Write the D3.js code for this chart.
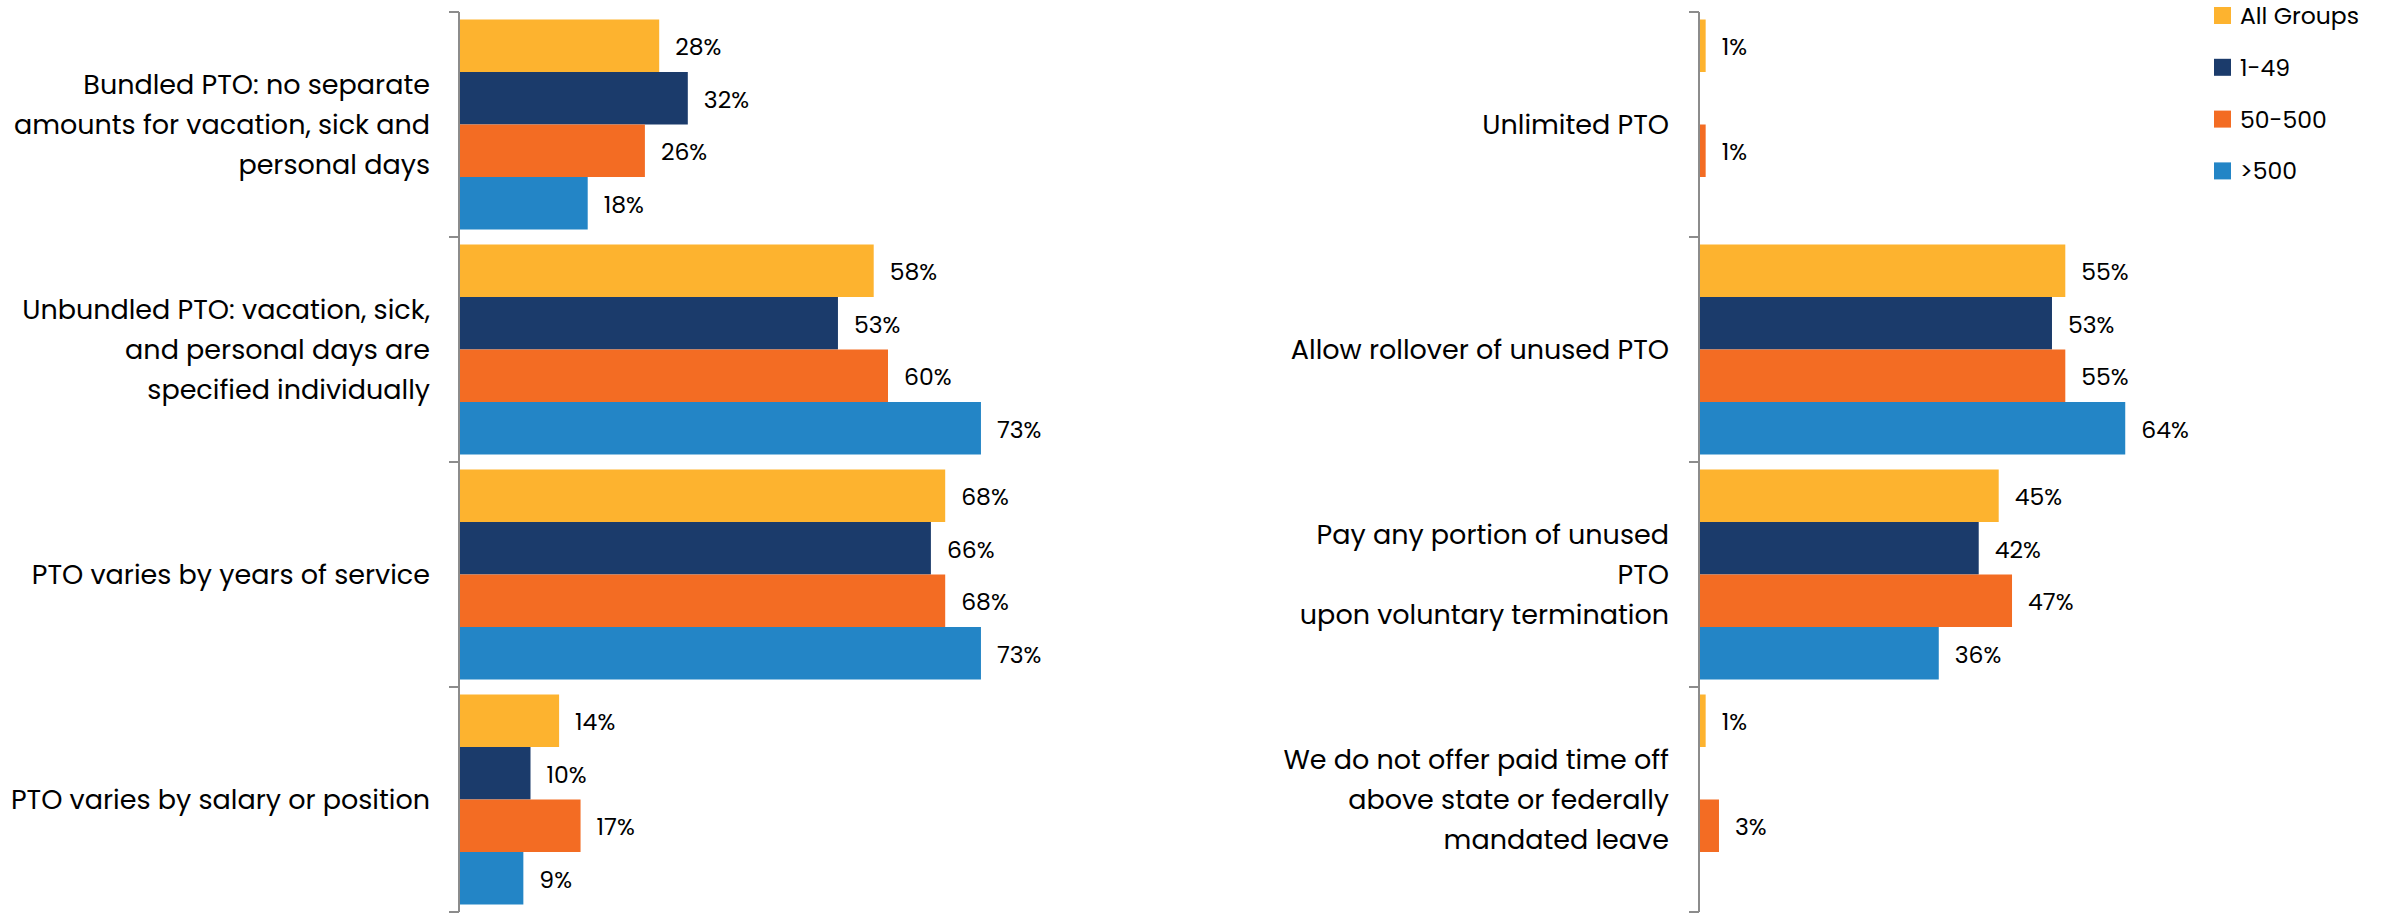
<!DOCTYPE html>
<html>
<head>
<meta charset="utf-8">
<script src="https://cdn.jsdelivr.net/npm/d3@7"></script>
<style>
  html, body { margin: 0; padding: 0; background: #fff; }
  svg { display: block; }
  text { font-family: Poppins, Inter, "Open Sans", sans-serif; fill: #000; }
</style>
</head>
<body>
<svg id="chart" width="2395" height="913"></svg>
<script>
// ---------- data ----------
const seriesNames = ["All Groups", "1-49", "50-500", ">500"];

const leftCategories = [
  ["Bundled PTO: no separate", "amounts for vacation, sick and", "personal days"],
  ["Unbundled PTO: vacation, sick,", "and personal days are", "specified individually"],
  ["PTO varies by years of service"],
  ["PTO varies by salary or position"]
];
const leftAllGroups = [28, 58, 68, 14];
const left1to49     = [32, 53, 66, 10];
const left50to500   = [26, 60, 68, 17];
const leftOver500   = [18, 73, 73, 9];

const rightCategories = [
  ["Unlimited PTO"],
  ["Allow rollover of unused PTO"],
  ["Pay any portion of unused", "PTO", "upon voluntary termination"],
  ["We do not offer paid time off", "above state or federally", "mandated leave"]
];
const rightAllGroups = [1, 55, 45, 1];
const right1to49     = [null, 53, 42, null];
const right50to500   = [1, 55, 47, 3];
const rightOver500   = [null, 64, 36, null];

const colors = ["#FDB32F", "#1B3B6B", "#F36C23", "#2385C6"];

// ---------- drawing ----------
const svg = d3.select("#chart");

function panel(cfg) {
  const { categories, values, axisX, pxPerPct, labelGap } = cfg;
  const g = svg.append("g");
  const y = d3.scaleBand().domain(d3.range(categories.length)).range([12, 912]).padding(0);
  const inner = d3.scaleBand().domain(d3.range(seriesNames.length))
    .range([7.5, y.bandwidth() - 7.5]).padding(0);
  const x = d3.scaleLinear().domain([0, 80]).range([axisX, axisX + 80 * pxPerPct]);

  categories.forEach((cat, ci) => {
    values.forEach((arr, si) => {
      const v = arr[ci];
      if (v === null || v === undefined) return;
      const y0 = y(ci) + inner(si);
      g.append("rect")
        .attr("x", x(0))
        .attr("y", y0)
        .attr("width", x(v) - x(0))
        .attr("height", inner.bandwidth())
        .attr("fill", colors[si]);
      g.append("text")
        .attr("x", x(v) + 16)
        .attr("y", y0 + inner.bandwidth() / 2 + 1)
        .attr("dominant-baseline", "central")
        .attr("font-size", 23.5)
        .text(v + "%");
    });
    const lh = 40;
    const cy = y(ci) + y.bandwidth() / 2;
    const n = cat.length;
    const t = g.append("text")
      .attr("text-anchor", "end")
      .attr("font-size", 27);
    cat.forEach((line, li) => {
      t.append("tspan")
        .attr("x", axisX - labelGap)
        .attr("y", cy + (li - (n - 1) / 2) * lh)
        .attr("dominant-baseline", "central")
        .text(line);
    });
  });

  g.append("line")
    .attr("x1", axisX).attr("x2", axisX)
    .attr("y1", y.range()[0]).attr("y2", y.range()[1])
    .attr("stroke", "#8c8c8c").attr("stroke-width", 2);
  const bounds = d3.range(categories.length + 1).map(i => i < categories.length ? y(i) : y.range()[1]);
  g.selectAll("line.tick").data(bounds).enter().append("line")
    .attr("x1", axisX - 10).attr("x2", axisX)
    .attr("y1", d => d).attr("y2", d => d)
    .attr("stroke", "#8c8c8c").attr("stroke-width", 2);
}

panel({
  categories: leftCategories,
  values: [leftAllGroups, left1to49, left50to500, leftOver500],
  axisX: 459, pxPerPct: 7.15, labelGap: 29
});
panel({
  categories: rightCategories,
  values: [rightAllGroups, right1to49, right50to500, rightOver500],
  axisX: 1699, pxPerPct: 6.66, labelGap: 30
});

// legend
const legend = svg.append("g").attr("transform", "translate(2214,7)");
seriesNames.forEach((name, i) => {
  legend.append("rect")
    .attr("x", 0).attr("y", i * 51.8)
    .attr("width", 17).attr("height", 17)
    .attr("fill", colors[i]);
  legend.append("text")
    .attr("x", 26).attr("y", i * 51.8 + 8.5)
    .attr("dominant-baseline", "central")
    .attr("font-size", 23.5)
    .text(name);
});
</script>
</body>
</html>
